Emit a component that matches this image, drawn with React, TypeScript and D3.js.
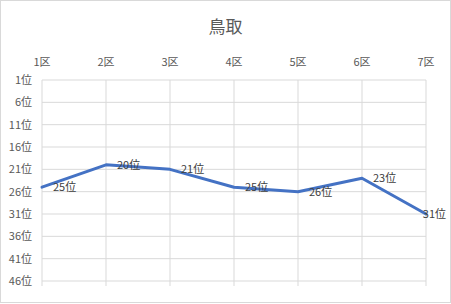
import React from "react";
import * as d3 from "d3";

const categories = ["1区", "2区", "3区", "4区", "5区", "6区", "7区"];
const ranks = [25, 20, 21, 25, 26, 23, 31];
const yTicks = [1, 6, 11, 16, 21, 26, 31, 36, 41, 46];
const title = "鳥取";

const W = 451;
const H = 304;
const FONT = "'Noto Sans CJK JP', 'Noto Sans', sans-serif";

export default function App() {
  const left = 42;
  const right = 426;
  const top = 80;
  const bottom = 281;
  const x = d3.scalePoint<string>().domain(categories).range([left, right]);
  const y = d3.scaleLinear().domain([1, 46]).range([top, bottom]);
  const line = d3
    .line<number>()
    .x((_, i) => x(categories[i]) as number)
    .y((d) => y(d));

  return (
    <svg
      width={W}
      height={H}
      style={{ position: "absolute", left: 0, top: 0, background: "#fff" }}
      fontFamily={FONT}
    >
      <rect x={0.5} y={0.5} width={W - 1} height={H - 2} fill="#fff" stroke="#d9d9d9" />
      <text x={W / 2} y={33} textAnchor="middle" fontSize={17} fill="#595959">
        {title}
      </text>
      {yTicks.map((t) => (
        <g key={t}>
          <line x1={left} x2={right} y1={y(t)} y2={y(t)} stroke="#d9d9d9" strokeWidth={1} />
          <text x={32} y={y(t)} dy="0.35em" textAnchor="end" fontSize={11} fill="#595959">
            {t}位
          </text>
        </g>
      ))}
      {categories.map((c) => (
        <g key={c}>
          <line
            x1={x(c)}
            x2={x(c)}
            y1={top}
            y2={bottom + 5}
            stroke="#d9d9d9"
            strokeWidth={1}
          />
          <text x={x(c)} y={66} textAnchor="middle" fontSize={11} fill="#595959">
            {c}
          </text>
        </g>
      ))}
      <path
        d={line(ranks) || ""}
        fill="none"
        stroke="#4472C4"
        strokeWidth={3}
        strokeLinejoin="round"
        strokeLinecap="round"
      />
      {ranks.map((r, i) => {
        const px = x(categories[i]) as number;
        const last = i === ranks.length - 1;
        return (
          <text
            key={i}
            x={last ? W - 5 : px + 11}
            y={y(r)}
            dy="0.35em"
            textAnchor={last ? "end" : "start"}
            fontSize={11}
            fill="#404040"
          >
            {r}位
          </text>
        );
      })}
    </svg>
  );
}
